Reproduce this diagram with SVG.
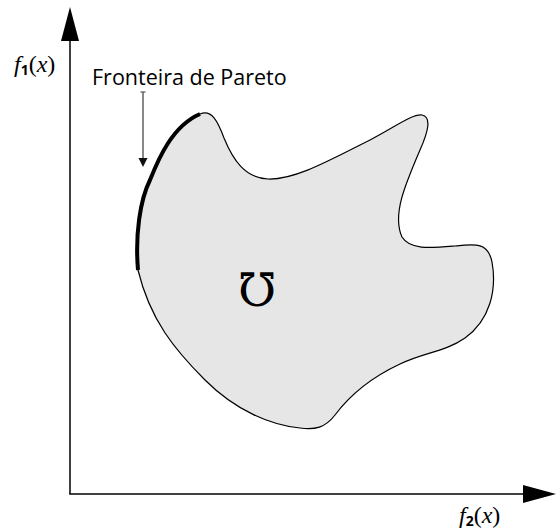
<svg xmlns="http://www.w3.org/2000/svg" width="558" height="530" viewBox="0 0 558 530">
<style>
.axis{stroke:#000;stroke-width:1.5;fill:none}
.head{fill:#000}
.lbl{font-family:"Liberation Serif","Times New Roman",serif;font-size:24px;fill:#000}
.it{font-style:italic}
.sub{font-family:"Open Sans","Liberation Sans",sans-serif;font-size:14px;font-weight:bold}
.note{font-family:"Open Sans","Liberation Sans",sans-serif;font-size:21.5px;fill:#000}
</style>
<rect width="558" height="530" fill="#fff"/>
<g id="region">
<path d="M200,114 C212,109 218,122 224,138 C233,160 245,178 268,179 C295,180 330,160 370,140 C395,127 412,114 422,115 C432,117 428,132 420,150 C405,185 392,215 402,237 C410,250 430,248 455,246 C475,244 488,242 492,262 C497,290 490,320 465,338 C445,352 425,352 400,364 C370,378 350,395 335,415 C325,428 315,430 300,428 C270,425 235,410 205,380 C175,350 150,320 138,270 C135,235 140,200 150,180 C158,160 172,126 200,114 Z" fill="#e6e6e6" stroke="#000" stroke-width="1.2"/>
<path d="M138,270 C135,235 140,200 150,180 C158,160 172,126 200,114" fill="none" stroke="#000" stroke-width="4"/>
<text x="257" y="306" text-anchor="middle" font-family="DejaVu Serif, serif" font-size="46">℧</text>
</g>
<g id="axes">
<line class="axis" x1="70" y1="38" x2="70" y2="494"/>
<line class="axis" x1="69.25" y1="494" x2="525" y2="494"/>
<polygon class="head" points="70,7 61,41 79,41"/>
<polygon class="head" points="556,494 523,485 523,503"/>
</g>
<g id="labels">
<text class="lbl" x="14" y="72"><tspan class="it">f</tspan><tspan class="sub" dy="3">1</tspan><tspan dy="-3">(</tspan><tspan class="it">x</tspan><tspan>)</tspan></text>
<text class="lbl" x="459" y="523"><tspan class="it">f</tspan><tspan class="sub" dy="3">2</tspan><tspan dy="-3">(</tspan><tspan class="it">x</tspan><tspan>)</tspan></text>
</g>
<g id="pareto-label">
<text class="note" x="92" y="85">Fronteira de Pareto</text>
<line x1="140.5" y1="92" x2="145.5" y2="92" stroke="#555" stroke-width="1.2"/>
<line x1="143" y1="92" x2="143" y2="160" stroke="#555" stroke-width="1.4"/>
<polygon points="138.5,158 147.5,158 143,167" fill="#111"/>
</g>
</svg>
